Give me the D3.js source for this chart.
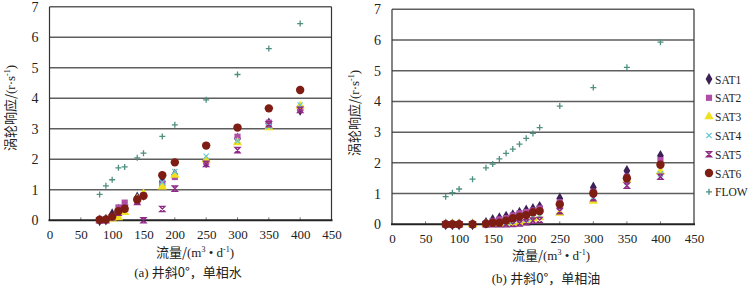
<!DOCTYPE html>
<html>
<head>
<meta charset="utf-8">
<script src="https://cdn.jsdelivr.net/npm/d3@7"></script>
<style>
body { margin: 0; background: #fff; }
svg text { font-family: "Liberation Serif", "Times New Roman", "DejaVu Serif", serif; }
svg .cjk { font-family: "Noto Sans CJK SC", sans-serif; }
</style>
</head>
<body>
<div id="chart"></div>
<script>
var xTicks = [0, 50, 100, 150, 200, 250, 300, 350, 400, 450];
var yTicks = [0, 1, 2, 3, 4, 5, 6, 7];
var seriesNames = ["SAT1", "SAT2", "SAT3", "SAT4", "SAT5", "SAT6", "FLOW"];
var seriesColors = ["#3b2155", "#b04ea6", "#f0e01e", "#62c6d6", "#8e2a86", "#7d1d14", "#4f8f80"];

// (a) single phase water
var waterRate = [80, 90, 100, 110, 120, 140, 150, 180, 200, 250, 300, 350, 400];
var waterSat1 = [0, 0.02, 0.2, 0.35, 0.45, 0.75, 0.83, 1.27, 1.5, 1.9, 2.68, 3.18, 3.62];
var waterSat2 = [0, 0.02, 0.12, 0.42, 0.58, 0.62, 0.82, 1.2, 1.42, 1.92, 2.74, 3.2, 3.67];
var waterSat3 = [0, 0, 0.05, 0.09, 0.26, 0.7, 0.87, 1.1, 1.48, 1.98, 2.55, 3.04, 3.75];
var waterSat4 = [0, 0.01, 0.1, 0.3, 0.42, 0.68, 0.84, 1.25, 1.6, 2.1, 2.6, 3.08, 3.78];
var waterSat5 = [0, 0, 0.1, 0.25, 0.4, 0.6, 0, 0.37, 1.04, 1.85, 2.3, 3.15, 3.62];
var waterSat6 = [0.02, 0.03, 0.12, 0.3, 0.38, 0.68, 0.8, 1.48, 1.9, 2.45, 3.04, 3.67, 4.27];
var waterFlow = [0.85, 1.13, 1.33, 1.72, 1.75, 2.05, 2.2, 2.75, 3.13, 3.95, 4.78, 5.63, 6.45];

// (b) single phase oil
var oilRate = [80, 90, 100, 120, 140, 150, 160, 170, 180, 190, 200, 210, 220, 250, 300, 350, 400];
var oilSat1 = [0, 0, 0, 0, 0.05, 0.14, 0.2, 0.25, 0.3, 0.38, 0.45, 0.5, 0.57, 0.84, 1.2, 1.74, 2.23];
var oilSat2 = [0, 0, 0, 0, 0.03, 0.1, 0.16, 0.2, 0.29, 0.36, 0.4, 0.45, 0.52, 0.72, 1.06, 1.55, 2.09];
var oilSat3 = [0, 0, 0, 0, 0, 0, 0, 0, 0.02, 0.06, 0.12, 0.18, 0.22, 0.37, 0.76, 1.45, 1.72];
var oilSat4 = [0, 0, 0, 0, 0, 0, 0, 0.04, 0.09, 0.12, 0.16, 0.23, 0.27, 0.55, 0.88, 1.39, 1.64];
var oilSat5 = [0, 0, 0, 0, 0, 0, 0, 0, 0.01, 0.03, 0.07, 0.12, 0.14, 0.43, 0.85, 1.26, 1.55];
var oilSat6 = [0, 0, 0, 0, 0.02, 0.05, 0.05, 0.12, 0.2, 0.25, 0.3, 0.39, 0.43, 0.65, 1.01, 1.5, 1.94];
var oilFlow = [0.9, 1.03, 1.15, 1.47, 1.84, 1.96, 2.13, 2.31, 2.45, 2.61, 2.8, 2.96, 3.15, 3.85, 4.45, 5.11, 5.93];

var svg = d3.select("#chart").append("svg")
    .attr("width", 750)
    .attr("height", 290);

function drawMarker(g, k, color) {
    if (k == 0) {
        g.append("path").attr("d", d3.symbol(d3.symbolDiamond, 40)()).attr("fill", color);
    } else if (k == 1) {
        g.append("path").attr("d", d3.symbol(d3.symbolSquare, 38)()).attr("fill", color);
    } else if (k == 2) {
        g.append("path").attr("d", d3.symbol(d3.symbolTriangle, 38)()).attr("fill", color);
    } else if (k == 3) {
        g.append("path").attr("d", "M-2.6,-2.6L2.6,2.6M-2.6,2.6L2.6,-2.6")
            .attr("stroke", color).attr("stroke-width", 1.2).attr("fill", "none");
    } else if (k == 4) {
        g.append("path").attr("d", "M-2.5,-2.6H2.5L-2.5,2.6H2.5Z")
            .attr("stroke", color).attr("stroke-width", 1.4).attr("fill", "none");
    } else if (k == 5) {
        g.append("circle").attr("r", 4.2).attr("fill", color);
    } else {
        g.append("path").attr("d", "M-3,0H3M0,-3V3")
            .attr("stroke", color).attr("stroke-width", 1.3).attr("fill", "none");
    }
}

function drawPanel(cfg) {
    var x = d3.scaleLinear().domain([0, 450]).range([cfg.left, cfg.right]);
    var y = d3.scaleLinear().domain([0, 7]).range([cfg.bottom, cfg.top]);
    var g = svg.append("g");

    // grid lines
    g.selectAll(".grid")
        .data(yTicks.filter(function (d) { return d > 0; }))
        .enter()
        .append("line")
        .attr("x1", cfg.left)
        .attr("x2", cfg.right)
        .attr("y1", function (d) { return y(d); })
        .attr("y2", function (d) { return y(d); })
        .attr("stroke", "#5e5e5e")
        .attr("stroke-width", 1.5);

    g.append("line")
        .attr("x1", cfg.left).attr("x2", cfg.left)
        .attr("y1", cfg.top).attr("y2", cfg.bottom)
        .attr("stroke", "#333").attr("stroke-width", 1.2);
    g.append("line")
        .attr("x1", cfg.right).attr("x2", cfg.right)
        .attr("y1", cfg.top).attr("y2", cfg.bottom)
        .attr("stroke", "#333").attr("stroke-width", 1.2);

    // little inside ticks on the x axis
    g.selectAll(".xt")
        .data(xTicks.slice(1, -1))
        .enter()
        .append("line")
        .attr("x1", function (d) { return x(d); })
        .attr("x2", function (d) { return x(d); })
        .attr("y1", cfg.bottom)
        .attr("y2", cfg.bottom - 3)
        .attr("stroke", "#777")
        .attr("stroke-width", 1);

    g.append("line")
        .attr("x1", cfg.left - 1).attr("x2", cfg.right + 1)
        .attr("y1", cfg.bottom).attr("y2", cfg.bottom)
        .attr("stroke", "#222").attr("stroke-width", 2);

    // axis labels
    var yAxis = d3.axisLeft(y).tickValues(yTicks).tickFormat(d3.format("d"))
        .tickSize(0).tickPadding(cfg.yPad);
    var gy = g.append("g")
        .attr("transform", "translate(" + cfg.left + ",0)")
        .call(yAxis)
        .attr("font-family", null);
    gy.select(".domain").remove();
    gy.selectAll("text")
        .style("font-size", "14px")
        .attr("fill", "#222");

    var xAxis = d3.axisBottom(x).tickValues(xTicks).tickFormat(d3.format("d"))
        .tickSize(0).tickPadding(cfg.xPad);
    var gx = g.append("g")
        .attr("transform", "translate(0," + cfg.bottom + ")")
        .call(xAxis)
        .attr("font-family", null);
    gx.select(".domain").remove();
    gx.selectAll("text")
        .style("font-size", "13px")
        .attr("fill", "#222");

    // data
    cfg.series.forEach(function (vals, k) {
        var pts = vals.map(function (v, i) { return { x: cfg.rate[i], y: v }; });
        g.selectAll(".s" + k)
            .data(pts)
            .enter()
            .append("g")
            .attr("transform", function (d) {
                return "translate(" + x(d.x) + "," + y(d.y) + ")";
            })
            .each(function () {
                drawMarker(d3.select(this), k, seriesColors[k]);
            });
    });

    // y title
    var yt = g.append("text")
        .attr("transform", "translate(" + cfg.yTitleX + "," + cfg.yTitleY + ") rotate(-90)")
        .attr("text-anchor", "middle")
        .attr("fill", "#222")
        .style("font-size", "13px");
    yt.append("tspan").attr("class", "cjk").text("涡轮响应/");
    yt.append("tspan").text("(r·s");
    yt.append("tspan").attr("dy", -5).style("font-size", "8px").text("-1");
    yt.append("tspan").attr("dy", 5).text(")");

    // x title
    var xt = g.append("text")
        .attr("x", cfg.xTitleX)
        .attr("y", cfg.xTitleY)
        .attr("text-anchor", "middle")
        .attr("fill", "#222")
        .style("font-size", "13px");
    xt.append("tspan").attr("class", "cjk").text("流量/");
    xt.append("tspan").text("(m");
    xt.append("tspan").attr("dy", -5).style("font-size", "8px").text("3");
    xt.append("tspan").attr("dy", 5).text(" • d");
    xt.append("tspan").attr("dy", -5).style("font-size", "8px").text("-1");
    xt.append("tspan").attr("dy", 5).text(")");

    // caption
    var cap = g.append("text")
        .attr("x", cfg.capX)
        .attr("y", cfg.capY)
        .attr("text-anchor", "middle")
        .attr("fill", "#222")
        .style("font-size", "13px");
    cap.append("tspan").text(cfg.capTag + " ");
    cap.append("tspan").attr("class", "cjk").text(cfg.capText);
}

drawPanel({
    left: 49.5, right: 331.5, top: 6.8, bottom: 220.3,
    yPad: 11, xPad: 9,
    rate: waterRate,
    series: [waterSat1, waterSat2, waterSat3, waterSat4, waterSat5, waterSat6, waterFlow],
    yTitleX: 15, yTitleY: 108,
    xTitleX: 195, xTitleY: 257,
    capX: 188, capY: 277,
    capTag: "(a)", capText: "井斜0°，单相水"
});

drawPanel({
    left: 392, right: 694, top: 9.3, bottom: 224.3,
    yPad: 11, xPad: 9,
    rate: oilRate,
    series: [oilSat1, oilSat2, oilSat3, oilSat4, oilSat5, oilSat6, oilFlow],
    yTitleX: 359, yTitleY: 113,
    xTitleX: 551, xTitleY: 260,
    capX: 546, capY: 283,
    capTag: "(b)", capText: "井斜0°，单相油"
});

// legend
var legend = svg.append("g")
    .selectAll(".legend")
    .data(seriesNames)
    .enter()
    .append("g")
    .attr("transform", function (d, i) {
        return "translate(709," + (79 + i * 18.8) + ")";
    });

legend.each(function (d, i) {
    drawMarker(d3.select(this), i, seriesColors[i]);
});

legend.append("text")
    .attr("x", 6)
    .attr("y", 4.5)
    .attr("fill", "#222")
    .style("font-size", "11.5px")
    .text(function (d) { return d; });
</script>
</body>
</html>
